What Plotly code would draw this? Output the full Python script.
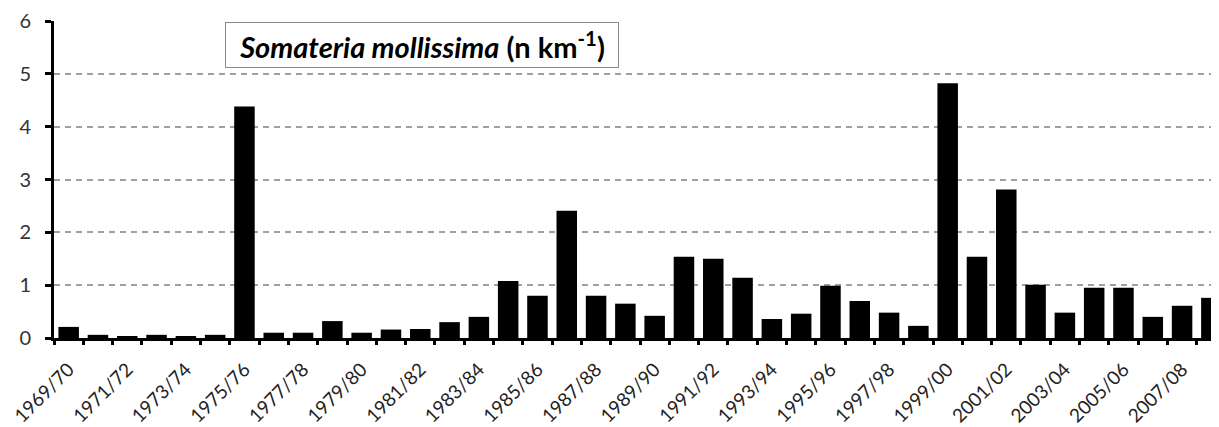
import plotly.graph_objects as go

seasons = [
    "1969/70", "1970/71", "1971/72", "1972/73", "1973/74", "1974/75", "1975/76",
    "1976/77", "1977/78", "1978/79", "1979/80", "1980/81", "1981/82", "1982/83",
    "1983/84", "1984/85", "1985/86", "1986/87", "1987/88", "1988/89", "1989/90",
    "1990/91", "1991/92", "1992/93", "1993/94", "1994/95", "1995/96", "1996/97",
    "1997/98", "1998/99", "1999/00", "2000/01", "2001/02", "2002/03", "2003/04",
    "2004/05", "2005/06", "2006/07", "2007/08", "2008/09",
]
density = [
    0.21, 0.06, 0.02, 0.06, 0.02, 0.06, 4.38, 0.10, 0.10, 0.32, 0.10, 0.16, 0.17,
    0.30, 0.40, 1.08, 0.80, 2.41, 0.80, 0.65, 0.42, 1.54, 1.50, 1.14, 0.36, 0.46,
    0.99, 0.70, 0.48, 0.23, 4.82, 1.54, 2.81, 1.01, 0.48, 0.95, 0.95, 0.40, 0.61, 0.76,
]

idx = list(range(len(seasons)))
bounds = [i - 0.5 for i in idx] + [len(idx) - 0.5]
XRANGE = [-0.5, 39.26]
FONT = "Lato"

fig = go.Figure()
fig.add_trace(
    go.Bar(
        x=idx,
        y=density,
        marker=dict(color="black", line=dict(width=0)),
        hovertext=seasons,
        showlegend=False,
    )
)
# empty trace so the overlay axis (ticks between bars) gets drawn
fig.add_trace(
    go.Scatter(x=[idx[0]], y=[0], xaxis="x2", mode="markers",
               marker=dict(opacity=0), showlegend=False, hoverinfo="skip")
)

# title box
fig.add_annotation(
    x=0.316, y=0.925, xref="paper", yref="paper",
    xanchor="center", yanchor="middle",
    text="<b><i>Somateria mollissima</i> (n km<sup>-1</sup>)</b>",
    showarrow=False,
    font=dict(family=FONT, size=29, color="black"),
    bordercolor="#8a8a8a", borderwidth=1, borderpad=3,
    bgcolor="white",
    width=386, height=38,
)

# page body has an 8px margin, so the margins are shifted to land the plot area
fig.update_layout(
    width=1219,
    height=427,
    margin=dict(l=46, r=8, t=13, b=97),
    plot_bgcolor="white",
    paper_bgcolor="white",
    bargap=0.3,
    font=dict(family=FONT, color="#333"),
    # labelled ticks sit at bar centres but are invisible (they only push labels down)
    xaxis=dict(
        range=XRANGE,
        automargin=False,
        tickmode="array",
        tickvals=idx[::2],
        ticktext=seasons[::2],
        tickangle=-45,
        ticks="outside", ticklen=10, tickcolor="rgba(0,0,0,0)",
        tickfont=dict(size=19, color="#222"),
        showgrid=False,
        showline=True, linecolor="black", linewidth=3,
        zeroline=False,
    ),
    # visible ticks between the bars
    xaxis2=dict(
        overlaying="x", anchor="y", side="bottom",
        range=XRANGE, automargin=False,
        tickmode="array", tickvals=bounds, showticklabels=False,
        ticks="outside", ticklen=6, tickwidth=3, tickcolor="black",
        showgrid=False, showline=False, zeroline=False,
    ),
)
fig.update_yaxes(
    range=[0, 6],
    automargin=False,
    dtick=1,
    ticks="outside", ticklen=6, tickwidth=3, tickcolor="black",
    ticklabelstandoff=10,
    tickfont=dict(size=20, color="#333"),
    showline=True, linecolor="black", linewidth=3,
    showgrid=True, gridcolor="#a0a0a0", griddash="6px,5px", gridwidth=1.5,
    zeroline=False,
)

fig.write_html("out.html")
